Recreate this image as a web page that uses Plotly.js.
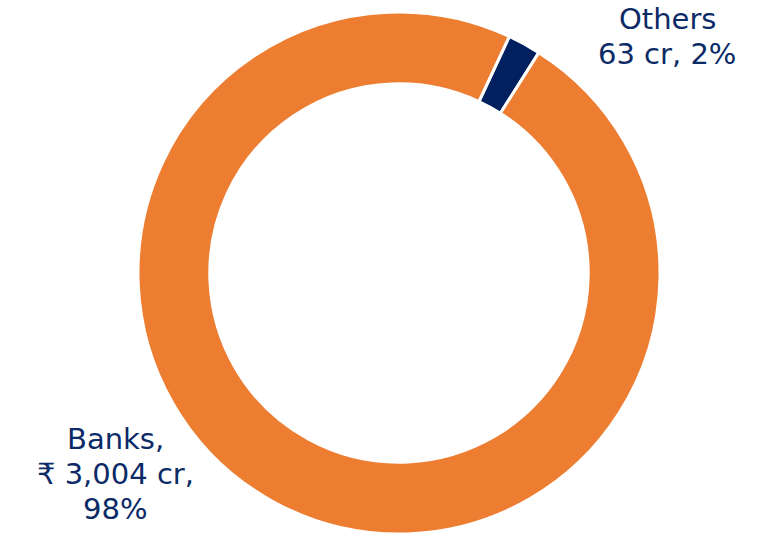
<!DOCTYPE html>
<html>
<head>
<meta charset="utf-8">
<script src="https://cdn.plot.ly/plotly-3.0.1.min.js"></script>
<style>html,body{margin:0;padding:0;background:#fff;}#chart{width:770px;height:538px;}</style>
</head>
<body>
<div id="chart"></div>
<script>
const categories = ["Others", "Banks"];
const values = [63, 3004];
const colors = ["#002060", "#ED7D31"];
const othersLines = ["Others", "63 cr, 2%"];
const banksLines = ["Banks,", "₹ 3,004 cr,", "98%"];

const W = 770, H = 538;
const cx = 399, cy = 273, R = 261;

const trace = {
  type: "pie",
  labels: categories,
  values: values,
  sort: false,
  direction: "clockwise",
  rotation: 25,
  hole: 0.725,
  textinfo: "none",
  hoverinfo: "label+value+percent",
  marker: { colors: colors, line: { color: "#ffffff", width: 3 } },
  domain: { x: [(cx - R) / W, (cx + R) / W], y: [(H - cy - R) / H, (H - cy + R) / H] },
  showlegend: false
};

const font = { family: "DejaVu Sans", size: 29, color: "#0B2A66" };
const annotations = [];
const othersY = [19, 54];
othersLines.forEach((t, i) => annotations.push({
  text: t, xref: "paper", yref: "paper", x: 667 / W, y: 1 - othersY[i] / H,
  xanchor: "center", yanchor: "middle", showarrow: false, font: font
}));
const banksY = [439, 474, 509];
banksLines.forEach((t, i) => annotations.push({
  text: t, xref: "paper", yref: "paper", x: 115 / W, y: 1 - banksY[i] / H,
  xanchor: "center", yanchor: "middle", showarrow: false, font: font
}));

const layout = {
  width: W, height: H,
  margin: { l: 0, r: 0, t: 0, b: 0 },
  paper_bgcolor: "#ffffff",
  showlegend: false,
  annotations: annotations
};

Plotly.newPlot("chart", [trace], layout, { displayModeBar: false, staticPlot: true });
</script>
</body>
</html>
